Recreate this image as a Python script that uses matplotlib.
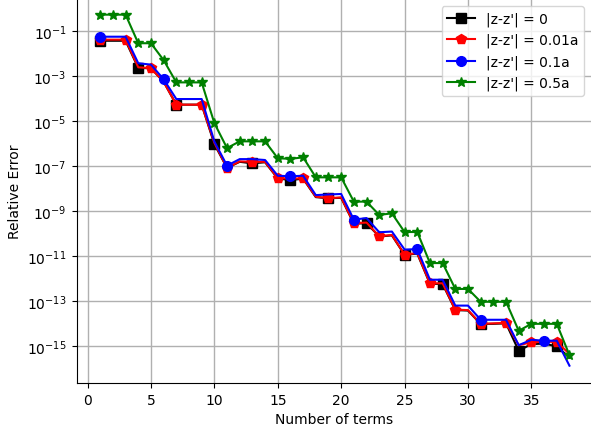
import matplotlib
matplotlib.use("Agg")
import matplotlib.pyplot as plt
import matplotlib.ticker as mticker
import numpy as np

# Number of terms
terms = list(range(1, 39))

# log10 of relative error
exp_0 = [-1.42, -1.42, -1.42, -2.63, -2.64, -3.24, -4.26, -4.26, -4.26, -6.01,
         -7.07, -6.80, -6.87, -6.82, -7.54, -7.61, -7.55, -8.37, -8.42, -8.40,
         -9.55, -9.53, -10.12, -10.07, -10.93, -10.88, -12.22, -12.23, -13.39, -13.41,
         -14.01, -14.00, -13.98, -15.20, -14.90, -14.88, -15.00, -15.50]
exp_001 = [-1.37, -1.37, -1.37, -2.60, -2.64, -3.24, -4.26, -4.26, -4.26, -5.95,
           -7.07, -6.78, -6.80, -6.80, -7.52, -7.55, -7.53, -8.35, -8.42, -8.38,
           -9.53, -9.50, -10.11, -10.05, -10.93, -10.85, -12.20, -12.20, -13.37, -13.39,
           -14.00, -13.98, -13.96, -14.95, -14.82, -14.80, -14.80, -15.34]
exp_01 = [-1.24, -1.24, -1.24, -2.42, -2.48, -3.13, -4.01, -4.01, -4.01, -5.90,
          -6.97, -6.68, -6.68, -6.72, -7.42, -7.44, -7.42, -8.28, -8.25, -8.23,
          -9.37, -9.30, -9.93, -9.90, -10.70, -10.68, -12.04, -12.04, -13.19, -13.19,
          -13.82, -13.82, -13.82, -14.95, -14.71, -14.75, -14.75, -15.86]
exp_05 = [-0.26, -0.26, -0.26, -1.53, -1.53, -2.28, -3.27, -3.27, -3.27, -5.08,
          -6.19, -5.89, -5.89, -5.89, -6.64, -6.67, -6.60, -7.49, -7.49, -7.49,
          -8.57, -8.57, -9.16, -9.09, -9.92, -9.92, -11.30, -11.30, -12.45, -12.45,
          -13.02, -13.02, -13.02, -14.31, -14.00, -14.00, -14.00, -15.39]

labels = ["|z-z'| = 0", "|z-z'| = 0.01a", "|z-z'| = 0.1a", "|z-z'| = 0.5a"]
series = [exp_0, exp_001, exp_01, exp_05]
styles = [("k", "s", 3), ("r", "p", 2), ("b", "o", 5), ("g", "*", 1)]

fig = plt.figure(figsize=(5.91, 4.35), dpi=100)
ax = fig.add_axes([76.5 / 591, 51 / 435, 1 - 76.5 / 591, 384 / 435])

for vals, (color, marker, every), label in zip(series, styles, labels):
    ax.semilogy(terms, 10.0 ** np.array(vals), color=color, marker=marker,
                markevery=every, linewidth=1.5, markersize=7, label=label)

ax.set_xlim(-0.87, 39.7)
ax.set_ylim(10 ** -16.63, 10 ** 0.436)
ax.set_xticks([0, 5, 10, 15, 20, 25, 30, 35])
ax.yaxis.set_major_locator(mticker.FixedLocator([10.0 ** e for e in range(-15, 0, 2)]))
ax.yaxis.set_minor_locator(mticker.NullLocator())
ax.grid(True, which="major", color="#b0b0b0", linewidth=1)
ax.set_axisbelow(True)
for side in ("top", "right"):
    ax.spines[side].set_visible(False)

ax.set_xlabel("Number of terms")
ax.set_ylabel("Relative Error")
ax.legend(loc="upper right", fontsize=10)

fig.savefig("out.png", dpi=100)
